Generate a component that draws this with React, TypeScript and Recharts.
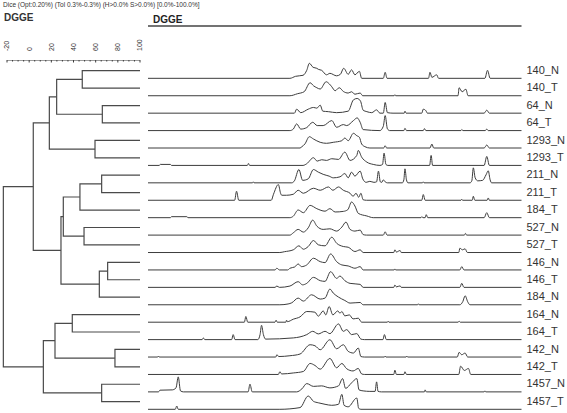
import React from 'react';
import { ComposedChart, LineChart, Line, XAxis, YAxis } from 'recharts';

// lane names, top to bottom
const samples = [
  '140_N', '140_T', '64_N', '64_T', '1293_N', '1293_T', '211_N', '211_T', '184_T', '527_N',
  '527_T', '146_N', '146_T', '184_N', '164_N', '164_T', '142_N', '142_T', '1457_N', '1457_T',
];

// UPGMA merges: [childA, childB, similarity %]; numbers are lanes, 'nX' are earlier merges
const merges: [number | string, number | string, number][] = [
  [0, 1, 47.9], [2, 3, 66.0], ['n0', 'n1', 24.8], [4, 5, 59.4], ['n2', 'n3', 18.2],
  [6, 7, 65.4], ['n5', 8, 45.8], [9, 10, 49.5], ['n6', 'n7', 30.8], [11, 12, 70.8],
  ['n9', 13, 63.3], ['n8', 'n10', 28.7], ['n4', 'n11', 3.7], [14, 15, 38.9], [16, 17, 77.4],
  ['n13', 'n14', 23.3], [18, 19, 65.4], ['n15', 'n16', 12.8], ['n12', 'n17', -23.3],
];

const scaleTicks = [-20, -15, -10, -5, 0, 5, 10, 15, 20, 25, 30, 35, 40, 45, 50, 55, 60, 65, 70, 75, 80, 85, 90, 95, 100];

// densitometric curves: [migration %, intensity]
const t140N = [[0,0],[38.0,0],[39.5,2],[41.5,3],[42.5,8],[43.2,15],[44.2,11],[45.2,10],[45.6,9],[46.5,8],[47.8,3.5],[48.7,5],[50.5,2.5],[51.5,4],[52.4,10],[53.6,4],[54.5,8.5],[55.4,3.5],[56.6,7],[57.2,0],[63.0,0],[63.5,6],[64.0,0],[75.1,0],[75.5,6],[76.0,1],[77.3,3.5],[77.8,0],[90.2,0],[90.9,8],[91.6,0],[100,0]];
const t140T = [[0,0],[38,0],[40,2],[41.8,4],[43.4,13],[44.3,10],[45.2,8],[46.1,6.7],[47.7,14],[48.5,12],[49.2,9],[50.1,5],[51.2,8],[52.3,4.3],[53.6,2.7],[54.5,4],[55.4,1.5],[56.8,2.7],[57.5,0],[65.9,0],[66.1,1],[66.3,0],[83.0,0],[83.3,8],[84.1,4],[85.1,6.5],[85.7,0],[100,0]];
const t64N = [[0,0],[39.2,0],[39.8,4],[40.9,0.5],[42.9,4],[44.3,5.7],[45.2,5],[46.1,8],[46.8,2],[48.3,1.5],[50.5,0.5],[53.6,2],[55.0,13.3],[56.0,14.7],[56.9,12],[57.6,3],[58.6,1.5],[59.9,0.5],[61.2,3.3],[62.1,0],[63.0,0],[63.5,10.7],[64.1,0.5],[65.6,0],[68.6,0],[68.8,2],[69.1,0],[73.3,0],[73.7,4],[74.4,2.5],[74.8,0],[90.0,0],[90.7,3],[91.4,0],[100,0]];
const t64T = [[0,0],[38.0,0],[38.9,1.5],[39.8,6.7],[40.9,1.5],[42.5,3],[44.1,8.3],[45.3,5],[46.9,5],[49.2,10],[50.5,3.3],[52.3,6],[53.2,5],[55.0,10],[56.0,12.7],[56.8,8.3],[57.6,1],[62.1,0],[63.0,4.3],[63.5,15],[64.1,1.7],[64.7,0],[68.5,0],[68.8,2.3],[69.2,0],[73.7,0],[74.0,2],[74.4,0],[83.8,0],[84.0,1],[84.3,0],[90.3,0],[90.7,1.5],[91.1,0],[100,0]];
const t1293N = [[0,0],[40.7,0],[41.2,1.3],[42.0,4],[43.2,11.3],[44.3,9],[46.1,5.7],[47.8,4.7],[49.6,5.7],[51.9,7.3],[52.7,10],[53.6,7.3],[55.0,14.7],[55.9,12.3],[56.6,10.7],[57.2,4],[58.1,1.3],[59.4,0],[63.1,0],[63.5,2.3],[63.9,0],[75.5,0],[76.0,4],[76.5,0],[90.0,0],[90.7,3],[91.4,0],[100,0]];
const t1293T = [[0,0],[3.0,0],[3.3,1],[6.0,1],[6.3,0],[26.6,0],[26.9,2],[27.2,0],[41.5,0],[42.5,1.7],[44.3,7.7],[45.3,4.3],[46.5,5.7],[47.8,5],[49.2,6.7],[51.0,6],[52.7,13.3],[54.1,5],[55.9,10],[56.3,15],[57.2,8.3],[58.6,3.3],[60.3,1],[62.1,0],[62.8,1],[63.2,12.3],[63.7,1],[64.2,0],[75.4,0],[75.8,10],[76.2,0],[90.0,0],[90.7,9],[91.4,0],[100,0]];
const t211N = [[0,0],[28.0,0],[28.2,1],[28.4,0],[38.5,0],[39.2,2],[40.4,13.3],[41.4,2.5],[42.9,4],[44.3,13.3],[45.6,10.7],[46.9,8.5],[48.5,6.7],[49.6,5],[51.4,6],[52.7,9.3],[53.6,5],[54.5,10.7],[55.4,6.7],[56.8,11.7],[57.5,4],[58.4,0.5],[59.4,1.5],[60.5,0.5],[61.2,1],[61.7,11.7],[62.2,1],[62.6,0.5],[63.0,3],[63.5,1],[64.1,0],[68.1,0],[68.5,3],[68.8,14],[69.2,3],[69.6,0],[73.5,0],[73.7,1],[73.9,0],[86.2,0],[86.7,2],[87.1,15],[87.6,5],[88.3,2],[89.6,2.5],[90.5,8],[91.1,12],[91.6,3],[92.0,0],[100,0]];
const t211T = [[0,0],[23.2,0],[23.7,9],[24.3,0],[33.0,0],[33.6,6],[34.9,15.7],[35.5,7],[35.8,5],[37.1,5],[38.9,6],[40.2,10],[41.6,7],[44.3,12],[46.1,10],[48.3,13.3],[49.5,10],[51.0,13.3],[52.3,10],[54.1,7],[54.9,4],[55.7,7],[56.4,3],[57.0,7],[57.6,0.5],[58.5,0],[73.3,0],[73.7,5.7],[74.2,0],[83.8,0],[84.0,1],[84.2,0],[86.8,0],[87.1,4],[87.5,0],[90.8,0],[91.1,2.3],[91.4,0],[100,0]];
const t184T = [[0,0],[6.0,0],[6.3,1],[10.4,1],[10.7,0],[38.0,0],[38.9,1.5],[40.2,7.7],[41.6,5],[43.4,12.3],[45.2,9],[47.4,6.5],[48.7,9],[50.1,5.7],[52.3,6.3],[53.5,8],[54.5,15.7],[55.4,11.7],[56.3,4.3],[58.6,1.7],[60.3,0],[73.1,0],[73.3,1],[73.6,0],[74.2,0],[74.5,3],[74.9,0],[90.0,0],[90.7,5],[91.4,0],[100,0]];
const t527N = [[0,0],[38.0,0],[38.9,2.3],[40.2,5.7],[41.6,3],[42.9,7.3],[44.1,15],[45.2,9],[46.9,5.7],[48.7,6.3],[50.5,4],[51.9,8],[53.0,13],[54.1,5.7],[55.4,4],[56.8,5],[57.6,0.5],[58.5,0],[63.0,0],[63.5,3.3],[64.0,0],[84.7,0],[85.0,1.7],[85.3,0],[100,0]];
const t527T = [[0,0],[35.3,0],[36.5,0.8],[38.9,2.7],[40.4,6.7],[41.6,3.3],[42.9,6],[44.3,12],[45.6,7.7],[47.4,6.7],[49.2,15.3],[50.5,9.3],[52.3,6],[53.6,5.3],[55.4,1],[56.8,2.7],[57.6,0],[65.8,0],[66.1,2.7],[66.5,0.5],[67.5,2],[67.8,0],[83.2,0],[83.5,4.3],[84.2,2.7],[84.9,3.7],[85.5,0],[100,0]];
const t146N = [[0,0],[34.0,0],[34.5,1.7],[35.2,0],[37.4,0],[38.0,1.7],[39.3,3],[40.2,6],[41.1,3.3],[42.5,5],[44.3,11.7],[46.1,8.3],[47.4,7.3],[48.9,16],[50.5,8.3],[51.9,5],[53.6,4],[55.4,1.7],[56.8,3.3],[57.6,0],[65.9,0],[66.1,1],[66.3,0],[83.5,0],[84.0,3.3],[84.6,0],[100,0]];
const t146T = [[0,0],[34.0,0],[34.5,1.3],[35.2,0],[38.0,1.3],[40.2,5.7],[41.4,2.5],[42.5,4],[44.3,10],[46.1,6.7],[47.4,6],[48.9,15.7],[50.5,9],[51.4,11.3],[52.7,6.7],[54.1,4],[56.8,3],[57.6,0],[65.8,0],[66.1,2.3],[66.5,0.5],[67.5,1.5],[67.8,0],[83.5,0],[84.0,4],[84.6,0],[100,0]];
const t184N = [[0,0],[35.3,0],[37.5,0.8],[38.5,2],[40.2,6.7],[41.6,3.7],[43.8,10],[46.1,5.7],[47.4,6.7],[48.7,15.7],[49.6,11.7],[51.0,7.7],[52.7,4.3],[54.1,1.7],[56.8,2.3],[57.6,0],[72.2,0],[72.4,1],[72.6,0],[83.5,0],[84.3,3.3],[84.9,9],[85.6,3],[86.2,0],[100,0]];
const t164N = [[0,0],[25.8,0],[26.2,5.7],[26.7,0],[34.0,0],[34.3,2],[34.6,0],[36.9,0],[37.1,2],[37.3,0.5],[38.9,3],[40.7,5.3],[42.5,10.7],[44.7,10],[45.6,6],[46.9,11.3],[47.6,7.3],[48.5,15.7],[49.5,7.3],[50.8,11.3],[51.4,9],[51.9,10.7],[52.7,6.3],[53.9,7.3],[54.9,3.3],[56.3,4],[57.2,0],[64.1,0],[64.3,1],[64.5,0],[83.0,0],[83.3,1],[83.6,0],[100,0]];
const t164T = [[0,0],[14.5,0],[14.8,1.7],[15.2,0],[22.4,0],[22.8,5],[23.3,0],[29.4,0],[30.0,5],[30.4,14.3],[30.9,5],[31.5,0.5],[38.9,1.7],[42.5,5],[44.1,8.3],[45.6,5.7],[47.4,8.3],[48.7,6],[51.0,15.7],[52.3,8.3],[53.2,10],[54.5,5],[55.9,6],[57.0,0.5],[58.0,0],[62.9,0],[63.3,5],[63.8,0],[100,0]];
const t142N = [[0,0],[2.6,0],[2.8,1],[3.0,0],[34.2,0],[34.5,2.3],[35.0,0.5],[38.0,1.3],[40.7,3],[43.4,12.3],[44.7,11.3],[46.1,7.3],[48.7,17.3],[50.5,8.3],[52.3,12.3],[53.6,5.7],[55.0,4],[56.3,9],[57.0,0.5],[58.0,0],[63.3,0],[63.5,1],[63.7,0],[69.1,0],[69.3,1],[69.5,0],[82.8,0],[83.3,4.7],[84.0,2.3],[84.9,4],[85.6,0],[100,0]];
const t142T = [[0,0],[34.9,0],[35.3,2.7],[35.8,0.5],[38.9,1.5],[41.6,3],[43.4,11],[44.7,9],[46.1,5.3],[48.7,16],[50.5,6.7],[51.9,11],[53.2,5.7],[54.9,3.5],[56.3,6],[57.2,0.5],[58.0,0],[65.8,0],[66.1,4.3],[66.5,0],[68.5,0],[68.8,2.7],[69.2,0],[83.2,0],[83.7,8.3],[84.7,4],[85.8,6],[86.4,0],[100,0]];
const t1457N = [[0,0],[2.8,0],[3.2,1.7],[6.5,2],[7.5,4],[8.1,15],[8.7,1],[9.5,0],[26.8,0],[27.3,7.7],[27.9,0],[39.8,0],[41.2,3],[42.5,8.3],[44.3,5.5],[46.5,6],[48.7,4],[51.0,6],[52.1,13.3],[52.9,3.5],[54.5,9],[55.9,13.3],[56.5,2],[57.6,1],[59.4,0.5],[60.8,0.5],[61.2,10],[61.6,0.5],[62.5,0],[74.0,0],[74.2,2],[74.5,0],[90.0,0],[90.2,1],[90.4,0],[100,0]];
const t1457T = [[0,0],[7.3,0],[7.7,3.3],[8.1,0],[35.3,0],[40.7,1.7],[42.9,13.3],[44.3,8],[45.6,6.5],[47.4,5],[49.2,4],[51.0,5],[51.9,15],[52.5,4],[53.6,2.5],[55.9,11.3],[56.4,1],[57.0,0],[100,0]];

const traces = [t140N, t140T, t64N, t64T, t1293N, t1293T, t211N, t211T, t184T, t527N,
  t527T, t146N, t146T, t184N, t164N, t164T, t142N, t142T, t1457N, t1457T];

const ROW = 17.42;
const LABEL_RISE = 8.3;
const ink = '#3c3c3c';
const font = 'Arial, "Liberation Sans", sans-serif';

// dendrogram: each merge becomes a bracket of four points
const buildTree = () => {
  const nodes: { x: number; y: number }[] = [];
  const get = (c: number | string) => {
    if (typeof c === 'number') return { x: 100, y: c };
    return nodes[Number(c.slice(1))];
  };
  return merges.map(([a, b, s]) => {
    const pa = get(a);
    const pb = get(b);
    nodes.push({ x: s, y: (pa.y + pb.y) / 2 });
    return [
      { x: pa.x, y: pa.y },
      { x: s, y: pa.y },
      { x: s, y: pb.y },
      { x: pb.x, y: pb.y },
    ];
  });
};

const ScaleTick = (props: any) => {
  const { x, y, payload } = props;
  const major = payload.value % 20 === 0;
  const ly = y - 9;
  return (
    <g>
      <line x1={x} x2={x} y1={y} y2={y + (major ? 2.5 : 1.5)} stroke={ink} strokeWidth={1} />
      {major && (
        <text x={x} y={ly} transform={`rotate(-90 ${x} ${ly})`} textAnchor="start" dy="0.35em"
          fontSize={7} fontFamily={font} fill="#333">
          {payload.value}
        </text>
      )}
    </g>
  );
};

const App: React.FC = () => {
  const brackets = buildTree();
  const last = samples.length - 1;
  const labelTicks = samples.map((_, k) => (last - k) * ROW + LABEL_RISE);

  return (
    <div style={{ position: 'absolute', left: 0, top: 0, width: 567, height: 413, background: '#fff', fontFamily: font }}>
      <div style={{ position: 'absolute', left: 3, top: 1, fontSize: 6.5, color: '#333', whiteSpace: 'nowrap' }}>
        Dice (Opt:0.20%) (Tol 0.3%-0.3%) (H&gt;0.0% S&gt;0.0%) [0.0%-100.0%]
      </div>
      <div style={{ position: 'absolute', left: 4, top: 12, fontSize: 10, fontWeight: 'bold', color: '#333' }}>DGGE</div>
      <div style={{ position: 'absolute', left: 153, top: 14, fontSize: 10, fontWeight: 'bold', color: '#222' }}>DGGE</div>

      {/* dendrogram */}
      <div style={{ position: 'absolute', left: 0, top: 0 }}>
        <ComposedChart width={150} height={413} margin={{ top: 59, right: 0, bottom: 0, left: 0 }}>
          <XAxis type="number" dataKey="x" orientation="top" domain={[-26.32, 109.02]} ticks={scaleTicks}
            height={1} tickSize={0} tickMargin={0} tick={ScaleTick} axisLine={false} interval={0} allowDataOverflow />
          <YAxis type="number" dataKey="y" domain={[-0.614, 19.65]} reversed hide allowDataOverflow />
          <Line data={[{ x: -20, y: -0.614 }, { x: 100, y: -0.614 }]} dataKey="y" stroke={ink} strokeWidth={1}
            dot={false} isAnimationActive={false} />
          {brackets.map((pts, i) => (
            <Line key={i} data={pts} dataKey="y" type="linear" stroke="#4a4a4a" strokeWidth={1.2}
              dot={false} isAnimationActive={false} />
          ))}
        </ComposedChart>
      </div>

      {/* densitometric curves */}
      <div style={{ position: 'absolute', left: 0, top: 0 }}>
        <LineChart width={567} height={413} margin={{ top: 25, right: 5.5, bottom: 0, left: 148 }}>
          <XAxis type="number" dataKey="x" orientation="top" domain={[0, 100]} height={1} tick={false}
            tickLine={false} axisLine={{ stroke: '#444', strokeWidth: 1.5 }} />
          <YAxis type="number" orientation="right" domain={[-3.7, 383.3]} ticks={labelTicks} width={40}
            axisLine={false} tickLine={false} tickSize={0} tickMargin={5} interval={0}
            tickFormatter={(v: number) => samples[last - Math.round((v - LABEL_RISE) / ROW)]}
            tick={{ fontSize: 11, fill: '#333', fontFamily: font, textAnchor: 'start' }} />
          {traces.map((tr, k) => (
            <Line key={samples[k]} data={tr.map(([x, h]) => ({ x, y: (last - k) * ROW + h }))} dataKey="y"
              type="monotone" stroke={ink} strokeWidth={1} dot={false} isAnimationActive={false} />
          ))}
        </LineChart>
      </div>
    </div>
  );
};

export default App;
